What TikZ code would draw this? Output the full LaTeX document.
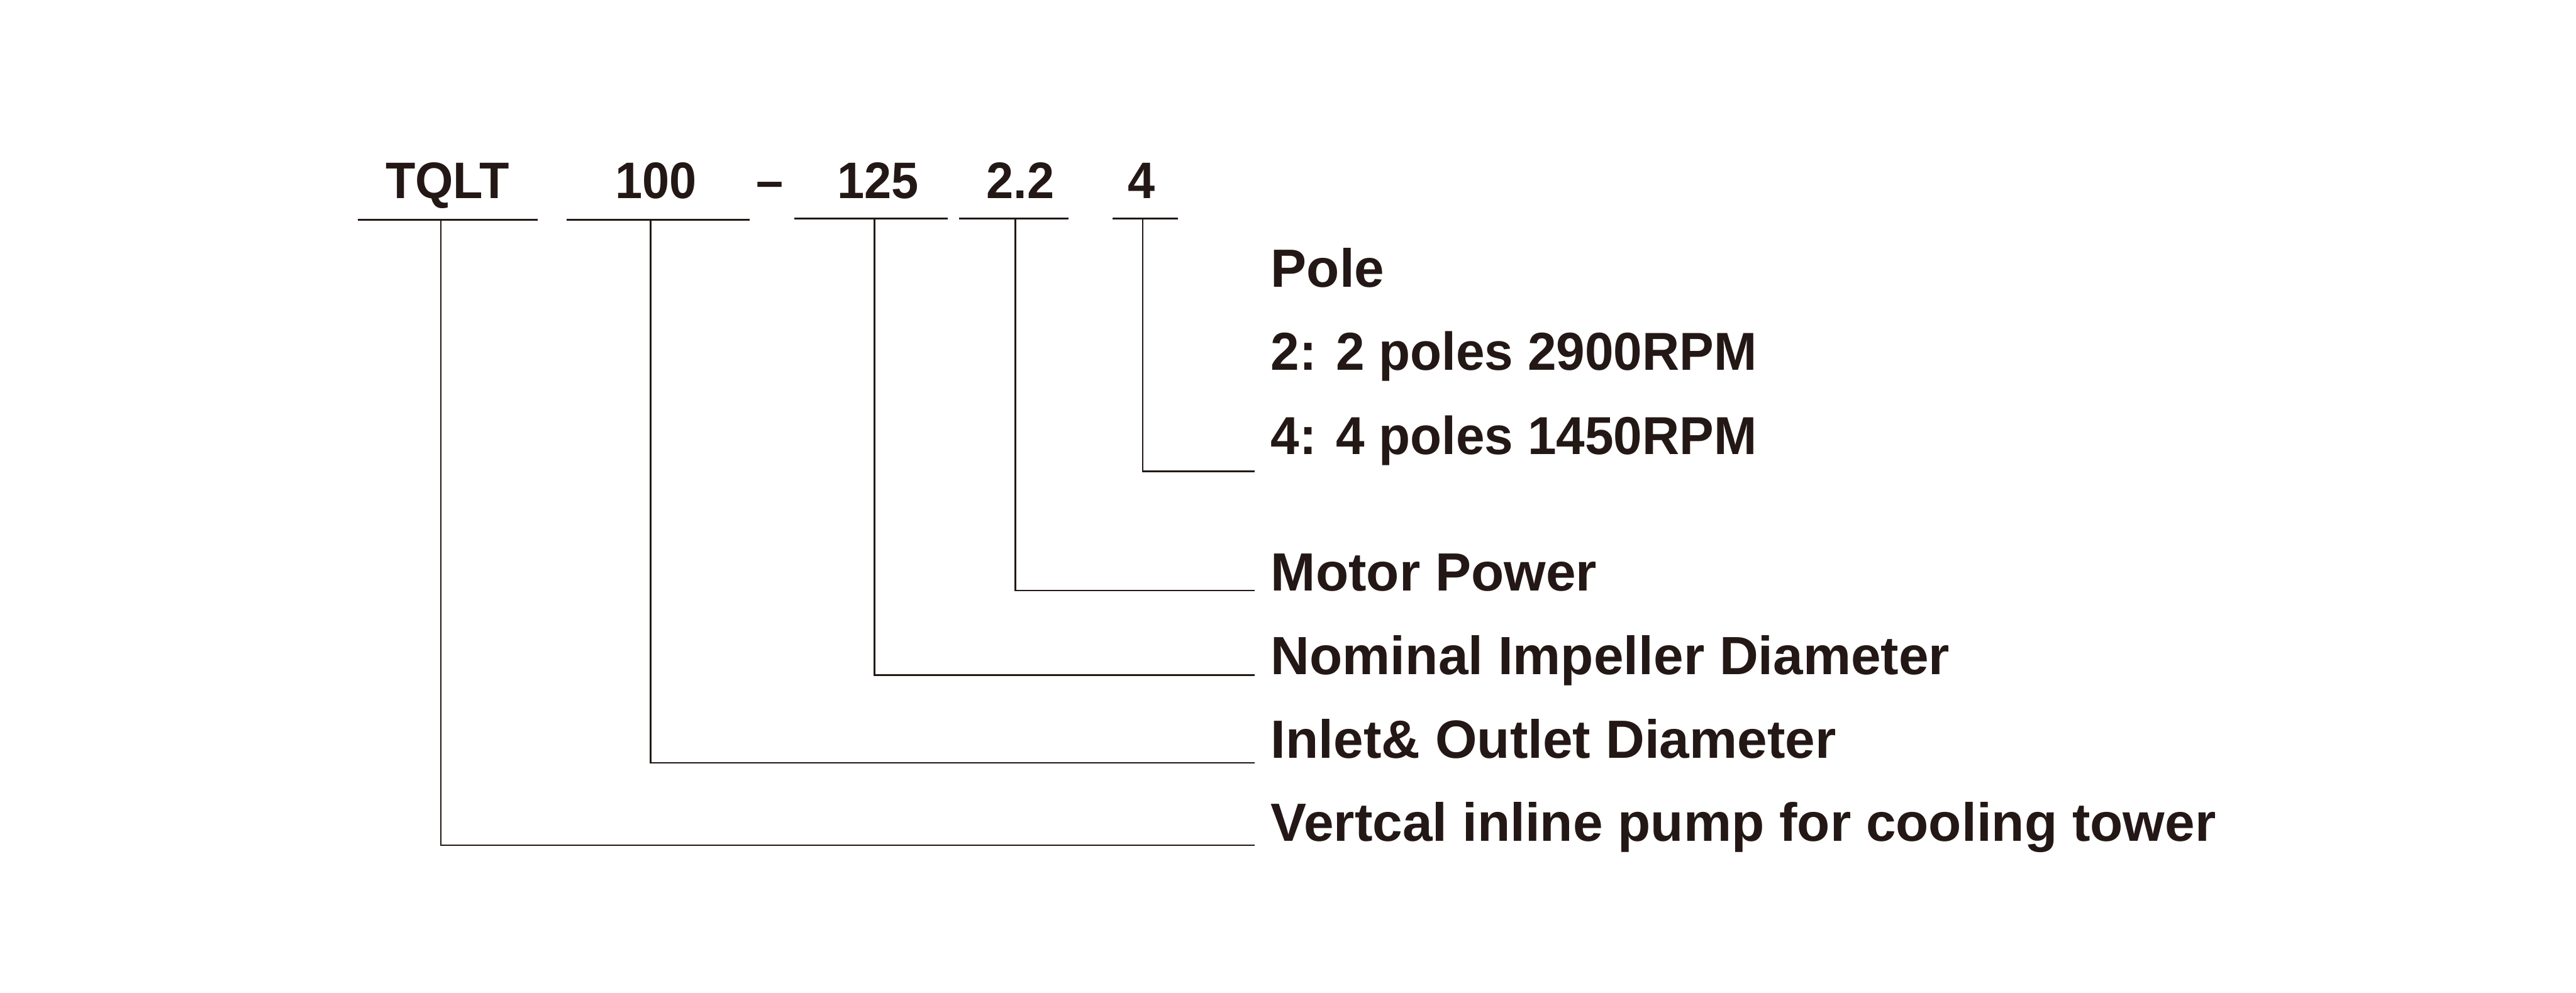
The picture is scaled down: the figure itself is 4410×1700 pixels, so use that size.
\documentclass[tikz,border=0pt]{standalone}
\usepackage{fontspec}
\setmainfont{Liberation Sans}
\newfontfamily\narrowsans[FakeStretch=0.965]{Liberation Sans}
\newfontfamily\codesans[FakeStretch=0.95]{Liberation Sans}
\definecolor{ink}{HTML}{231815}
\begin{document}
\begin{tikzpicture}[x=0.01cm,y=-0.01cm,
  toplabel/.style={anchor=base,inner sep=0pt,text=ink,font=\codesans\fontsize{25}{30}\selectfont\bfseries},
  desc/.style={anchor=base west,inner sep=0pt,text=ink,font=\fontsize{26.2}{30}\selectfont\bfseries},
  descn/.style={desc,font=\narrowsans\fontsize{26}{30}\selectfont\bfseries},
  uline/.style={draw=ink,line width=0.8pt},
  conn/.style={draw=ink,line width=0.75pt}]
\useasboundingbox[fill=white] (0,0) rectangle (4410,1700);
% code letters
\node[toplabel] (tqlt) at (766,340) {TQLT};
\node[toplabel] (inlet) at (1123,340) {100};
\node[toplabel] (dash) at (1318,340) {–};
\node[toplabel] (imp) at (1503,340) {125};
\node[toplabel] (pow) at (1747,340) {2.2};
\node[toplabel] (pole) at (1954,340) {4};
% underlines
\coordinate (a1) at (613,376);  \coordinate (b1) at (920,376);
\coordinate (a2) at (970,376);  \coordinate (b2) at (1283,376);
\coordinate (a3) at (1360,374); \coordinate (b3) at (1623,374);
\coordinate (a4) at (1642,374); \coordinate (b4) at (1829,374);
\coordinate (a5) at (1905,374); \coordinate (b5) at (2017,374);
\draw[uline] (a1) -- (b1);
\draw[uline] (a2) -- (b2);
\draw[uline] (a3) -- (b3);
\draw[uline] (a4) -- (b4);
\draw[uline] (a5) -- (b5);
% drop points
\coordinate (d1) at (755,376);
\coordinate (d2) at (1114,376);
\coordinate (d3) at (1497,374);
\coordinate (d4) at (1738,374);
\coordinate (d5) at (1956,374);
% line ends
\coordinate (e5) at (2148,807);
\coordinate (e4) at (2148,1011);
\coordinate (e3) at (2148,1156);
\coordinate (e2) at (2148,1306);
\coordinate (e1) at (2148,1447);
\draw[conn] (d5) |- (e5);
\draw[conn] (d4) |- (e4);
\draw[conn] (d3) |- (e3);
\draw[conn] (d2) |- (e2);
\draw[conn] (d1) |- (e1);
% descriptions
\node[desc] (t5a) at (2175,492) {Pole};
\node[descn] (t5b) at (2175,634) {2: 2 poles 2900RPM};
\node[descn] (t5c) at (2175,778) {4: 4 poles 1450RPM};
\node[desc] (t4) at (2175,1012) {Motor Power};
\node[desc] (t3) at (2175,1155) {Nominal Impeller Diameter};
\node[desc] (t2) at (2175,1298) {Inlet\& Outlet Diameter};
\node[desc] (t1) at (2175,1440) {Vertcal inline pump for cooling tower};
\end{tikzpicture}
\end{document}
